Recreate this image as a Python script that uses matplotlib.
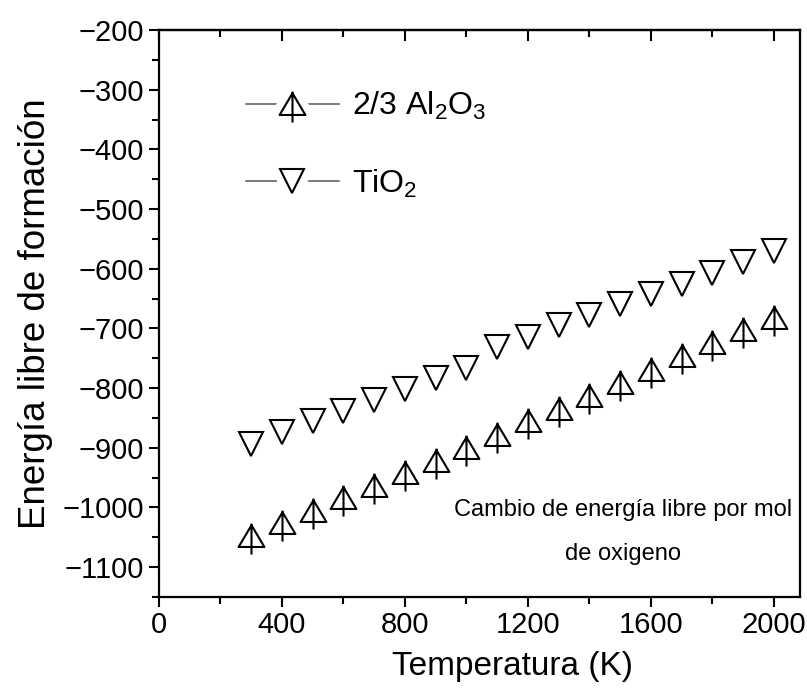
import numpy as np
import matplotlib
matplotlib.use("Agg")
import matplotlib.pyplot as plt
from matplotlib.path import Path
from matplotlib.lines import Line2D
from matplotlib.legend_handler import HandlerTuple

plt.rcParams['font.family'] = ['Liberation Sans', 'DejaVu Sans']
plt.rcParams['mathtext.default'] = 'regular'

# temperatura (K) y energia libre por mol de O2
temp = [300, 400, 500, 600, 700, 800, 900, 1000, 1100, 1200,
        1300, 1400, 1500, 1600, 1700, 1800, 1900, 2000]
al2o3 = [-1048, -1026, -1006, -985, -965, -943, -923, -901, -878,
         -856, -836, -813, -792, -769, -746, -725, -703, -682]
tio2 = [-893, -874, -856, -839, -820, -802, -784, -767, -732,
        -714, -695, -677, -660, -643, -625, -607, -588, -570]

labels = ['2/3 Al$_2$O$_3$', 'TiO$_2$']
note = 'Cambio de energía libre por mol\nde oxigeno'

# triangulo con linea vertical (simbolo de Al2O3)
tri_line = Path(
    [(0, 0.7), (-0.8, -0.65), (0.8, -0.65), (0, 0.7), (0, 0.8), (0, -1.12)],
    [Path.MOVETO, Path.LINETO, Path.LINETO, Path.CLOSEPOLY, Path.MOVETO, Path.LINETO])
styles = [dict(marker=tri_line, ms=26), dict(marker='v', ms=17)]

fig = plt.figure(figsize=(8.07, 6.9), dpi=100)
ax = fig.add_axes([0.197, 0.135, 0.7943, 0.8215])

for y, st in zip([al2o3, tio2], styles):
    ax.plot(temp, y, linestyle='none', mfc='none', mec='black', mew=1.5, **st)

ax.set_xlim(0, 2085)
ax.set_ylim(-1150, -200)
ax.set_xticks(np.arange(0, 2001, 400))
ax.set_xticks(np.arange(0, 2001, 200), minor=True)
ax.set_yticks(np.arange(-1100, -199, 100))
ax.set_yticks(np.arange(-1150, -199, 50), minor=True)

for s in ax.spines.values():
    s.set_linewidth(1.6)
ax.tick_params(which='both', direction='out', width=1.5, labelsize=21,
               right=False, top=False)
ax.tick_params(which='major', length=7)
ax.tick_params(which='minor', length=5)

top = ax.secondary_xaxis('top')
top.set_xticks(np.arange(0, 2001, 400))
top.set_xticks(np.arange(0, 2001, 200), minor=True)
top.tick_params(which='both', direction='in', width=1.5, labeltop=False)
top.tick_params(which='major', length=8)
top.tick_params(which='minor', length=5)
top.spines['top'].set_linewidth(1.6)

ax.set_xlabel('Temperatura (K)', fontsize=24)
ax.set_ylabel('Energía libre de formación', fontsize=26.5)
ax.xaxis.set_label_coords(0.552, -0.095)
ax.yaxis.set_label_coords(-0.165, 0.50)

# leyenda: linea gris cortada alrededor del simbolo
handles = []
for st in styles:
    line = Line2D([], [], color='#555555', lw=1.1)
    halo = Line2D([], [], linestyle='none', mfc='white', mec='white', mew=12, **st)
    mark = Line2D([], [], linestyle='none', mfc='none', mec='black', mew=1.5, **st)
    handles.append((line, halo, mark))
ax.legend(handles, labels, loc='upper left', bbox_to_anchor=(0.136, 0.894),
          frameon=False, fontsize=23, handlelength=2.9, handletextpad=0.4,
          labelspacing=1.42, borderpad=0, borderaxespad=0,
          handler_map={tuple: HandlerTuple(ndivide=1, pad=0)})

ax.text(0.724, 0.114, note, transform=ax.transAxes, ha='center', va='center',
        fontsize=17, linespacing=2.3)

fig.savefig('out.png', dpi=100)
